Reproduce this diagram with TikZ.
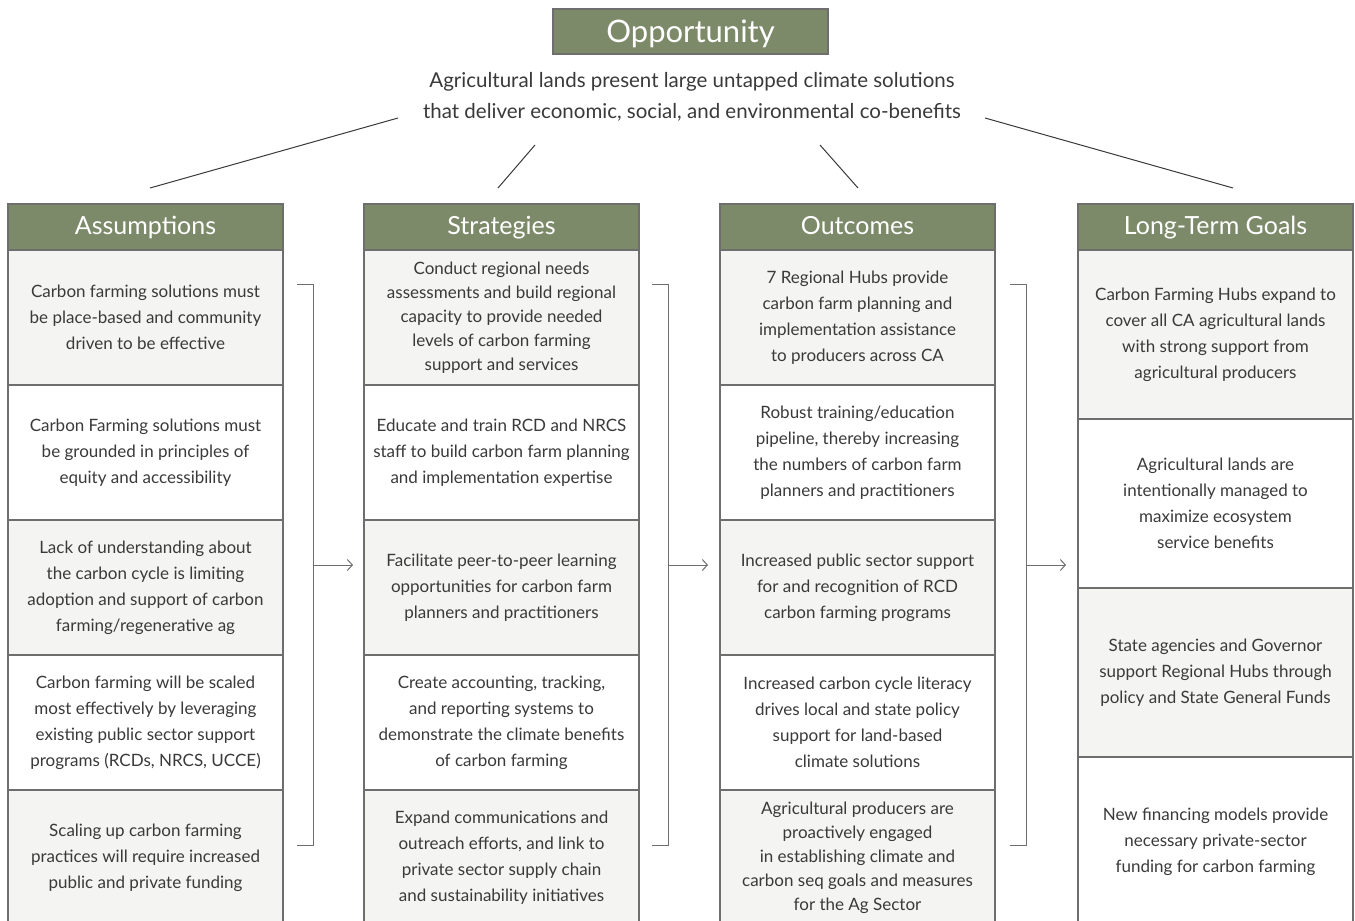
\documentclass[tikz,border=0pt]{standalone}
\usepackage{fontspec}
\setmainfont{Lato}
\usepackage{tikz}
\usetikzlibrary{positioning,arrows.meta}
\definecolor{sage}{RGB}{124,138,105}
\definecolor{panel}{RGB}{244,244,242}
\definecolor{ink}{RGB}{58,58,58}
\definecolor{rule}{RGB}{110,110,110}

\begin{document}
\begin{tikzpicture}[
        x=1pt, y=-1pt,
        >={Straight Barb[length=5pt,width=11pt]}, % open chevron tips
        head/.style={draw=rule, line width=1.2pt, fill=sage, text=white, outer sep=0pt,
            minimum width=275pt, minimum height=46pt, inner sep=0pt,
            text height=18pt, text depth=4pt,
            font=\fontsize{25}{28}\selectfont},
        cell/.style={draw=rule, line width=1.2pt, fill=panel, text=ink, outer sep=0pt,
            minimum width=275pt, minimum height=135pt, inner sep=0pt, align=center,
            font=\fontsize{17}{26}\selectfont},
        blank/.style={cell, fill=white},
        tall/.style={minimum height=169pt},
        brace/.style={draw=rule, line width=1pt},
    ]
        \clip (0,0) rectangle (1355,921);
        \fill[white] (0,0) rectangle (1355,921);

        % Opportunity
        \node[head, minimum height=45pt, text height=22pt, text depth=1pt,
            font=\fontsize{31}{34}\selectfont] (opp) at (690.5,31.5) {Opportunity};
        \node[text=ink, align=center, font=\fontsize{20.5}{31}\selectfont] (intro) at (692,97)
            {Agricultural lands present large untapped climate solutions\\
             that deliver economic, social, and environmental co-benefits};

        \coordinate (fan1a) at (398,118); \coordinate (fan1b) at (150,188);
        \coordinate (fan2a) at (535,145); \coordinate (fan2b) at (498,188);
        \coordinate (fan3a) at (820,145); \coordinate (fan3b) at (858,188);
        \coordinate (fan4a) at (985,118); \coordinate (fan4b) at (1233,188);
        \draw[ink, line width=1pt] (fan1a) -- (fan1b);
        \draw[ink, line width=1pt] (fan2a) -- (fan2b);
        \draw[ink, line width=1pt] (fan3a) -- (fan3b);
        \draw[ink, line width=1pt] (fan4a) -- (fan4b);

        % Assumptions
        \node[head] (assume) at (145.5,227) {Assumptions};
        \node[cell, below=0pt of assume] (assume1)
            {Carbon farming solutions must\\be place-based and community\\driven to be effective};
        \node[blank, below=0pt of assume1] (assume2)
            {Carbon Farming solutions must\\be grounded in principles of\\equity and accessibility};
        \node[cell, below=0pt of assume2] (assume3)
            {Lack of understanding about\\the carbon cycle is limiting\\adoption and support of carbon\\farming/regenerative ag};
        \node[blank, below=0pt of assume3] (assume4)
            {Carbon farming will be scaled\\most effectively by leveraging\\existing public sector support\\programs (RCDs, NRCS, UCCE)};
        \node[cell, below=0pt of assume4] (assume5)
            {Scaling up carbon farming\\practices will require increased\\public and private funding};

        % Strategies
        \node[head] (strat) at (501.5,227) {Strategies};
        \node[cell, below=0pt of strat, font=\fontsize{17}{24}\selectfont] (strat1)
            {Conduct regional needs\\assessments and build regional\\capacity to provide needed\\levels of carbon farming\\support and services};
        \node[blank, below=0pt of strat1] (strat2)
            {Educate and train RCD and NRCS\\staff to build carbon farm planning\\and implementation expertise};
        \node[cell, below=0pt of strat2] (strat3)
            {Facilitate peer-to-peer learning\\opportunities for carbon farm\\planners and practitioners};
        \node[blank, below=0pt of strat3] (strat4)
            {Create accounting, tracking,\\and reporting systems to\\demonstrate the climate benefits\\of carbon farming};
        \node[cell, below=0pt of strat4] (strat5)
            {Expand communications and\\outreach efforts, and link to\\private sector supply chain\\and sustainability initiatives};

        % Outcomes
        \node[head] (outc) at (857.5,227) {Outcomes};
        \node[cell, below=0pt of outc] (outc1)
            {7 Regional Hubs provide\\carbon farm planning and\\implementation assistance\\to producers across CA};
        \node[blank, below=0pt of outc1] (outc2)
            {Robust training/education\\pipeline, thereby increasing\\the numbers of carbon farm\\planners and practitioners};
        \node[cell, below=0pt of outc2] (outc3)
            {Increased public sector support\\for and recognition of RCD\\carbon farming programs};
        \node[blank, below=0pt of outc3] (outc4)
            {Increased carbon cycle literacy\\drives local and state policy\\support for land-based\\climate solutions};
        \node[cell, below=0pt of outc4, font=\fontsize{17}{24}\selectfont] (outc5)
            {Agricultural producers are\\proactively engaged\\in establishing climate and\\carbon seq goals and measures\\for the Ag Sector};

        % Long-Term Goals
        \node[head] (goal) at (1215.5,227) {Long-Term Goals};
        \node[cell, tall, below=0pt of goal] (goal1)
            {Carbon Farming Hubs expand to\\cover all CA agricultural lands\\with strong support from\\agricultural producers};
        \node[blank, tall, below=0pt of goal1] (goal2)
            {Agricultural lands are\\intentionally managed to\\maximize ecosystem\\service benefits};
        \node[cell, tall, below=0pt of goal2] (goal3)
            {State agencies and Governor\\support Regional Hubs through\\policy and State General Funds};
        \node[blank, tall, below=0pt of goal3] (goal4)
            {New financing models provide\\necessary private-sector\\funding for carbon farming};

        % Brackets and arrows
        \coordinate (brk1) at (313,565);
        \coordinate (brk2) at (668,565);
        \coordinate (brk3) at (1026,565);
        \draw[brace] (297,284) -| (313,845) -- (297,845);
        \draw[brace] (652,284) -| (668,845) -- (652,845);
        \draw[brace] (1010,284) -| (1026,845) -- (1010,845);
        \draw[brace, ->] (brk1) -- ([xshift=-11pt]brk1 -| strat.west);
        \draw[brace, ->] (brk2) -- ([xshift=-12pt]brk2 -| outc.west);
        \draw[brace, ->] (brk3) -- ([xshift=-12pt]brk3 -| goal.west);

    \end{tikzpicture}
\end{document}
